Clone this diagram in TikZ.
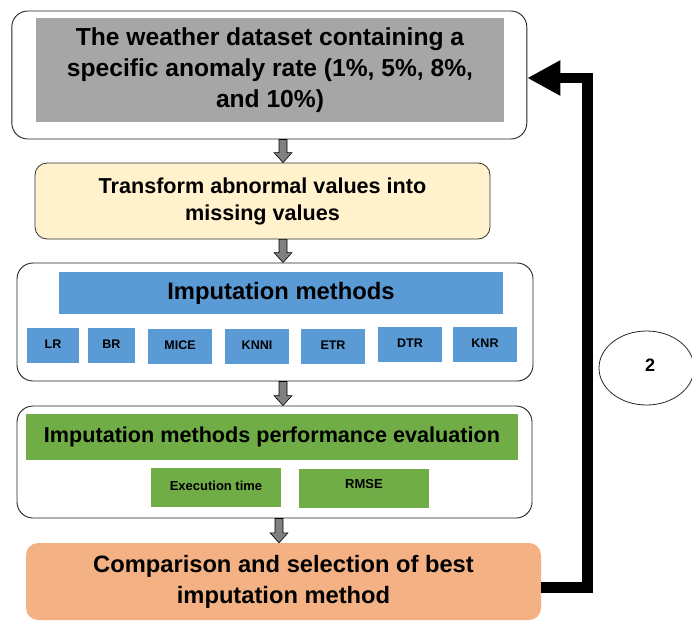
\documentclass[tikz,border=0pt]{standalone}
\usepackage{fontspec}
\setmainfont{Liberation Sans}
\usetikzlibrary{arrows.meta,shapes.geometric,calc}
\definecolor{boxgray}{HTML}{A6A6A6}
\definecolor{boxyellow}{HTML}{FFF2CC}
\definecolor{boxblue}{HTML}{5B9BD5}
\definecolor{boxgreen}{HTML}{70AD47}
\definecolor{boxorange}{HTML}{F4B183}
\definecolor{arrowgray}{HTML}{808080}
\tikzset{
  frame/.style={draw=black!85, line width=0.9pt, rounded corners=16pt, fill=white},
  fillbox/.style={inner sep=0pt, align=center, font=\bfseries},
  smallbox/.style={fill=boxblue, minimum height=35pt, inner sep=0pt, font=\bfseries\fontsize{12.5}{14}\selectfont},
  greenbox/.style={fill=boxgreen, minimum width=130pt, minimum height=39pt, inner sep=0pt,
    font=\bfseries\fontsize{13}{15}\selectfont},
  fatarrow/.style={draw=black, fill=arrowgray, line width=0.6pt,
    to path={let \p1=(\tikztostart), \p2=(\tikztotarget) in
      (\x1-4pt,\y1) -- (\x1+4pt,\y1) -- (\x1+4pt,\y2+10pt) -- (\x1+9pt,\y2+10pt)
      -- (\x1,\y2) -- (\x1-9pt,\y2+10pt) -- (\x1-4pt,\y2+10pt) -- cycle}},
  feedback/.style={draw=black, line width=10.5pt, line join=miter,
    -{Triangle[length=33pt,width=33pt]}}
}
\begin{document}
\begin{tikzpicture}[x=1pt,y=-1pt]
\useasboundingbox (0,0) rectangle (692,621);
% box 1
\node[frame, minimum width=515pt, minimum height=128pt] (box1) at (269.3,75) {};
\node[fillbox, fill=boxgray, minimum width=468pt, minimum height=104pt,
  font=\bfseries\fontsize{24.6}{31}\selectfont] (data) at (270,70)
  {The weather dataset containing a\\specific anomaly rate (1\%, 5\%, 8\%,\\and 10\%)};
% yellow
\node[fillbox, draw=black!80, line width=0.8pt, rounded corners=12pt, fill=boxyellow,
  minimum width=455pt, minimum height=76pt,
  font=\bfseries\fontsize{21.6}{27}\selectfont] (trans) at (262.5,201)
  {Transform abnormal values into\\missing values};
% box 3
\node[frame, minimum width=516pt, minimum height=118pt] (box3) at (275,322) {};
\node[fillbox, fill=boxblue, minimum width=444pt, minimum height=42pt,
  font=\bfseries\fontsize{23.8}{28}\selectfont] (imp) at (281,293) {Imputation methods};
\node[smallbox, minimum width=52pt] (lr) at (53,345) {\raisebox{1pt}{LR}};
\node[smallbox, minimum width=47pt] (br) at (111.5,345) {\raisebox{1pt}{BR}};
\node[smallbox, minimum width=64pt] (mice) at (180,346.5) {\raisebox{3pt}{MICE}};
\node[smallbox, minimum width=64pt] (knni) at (257,346.5) {\raisebox{3pt}{KNNI}};
\node[smallbox, minimum width=64pt] (etr) at (333,346.5) {\raisebox{3pt}{ETR}};
\node[smallbox, minimum width=64pt] (dtr) at (410,344.5) {\raisebox{2.5pt}{DTR}};
\node[smallbox, minimum width=64pt] (knr) at (485,344.5) {\raisebox{2.5pt}{KNR}};
% box 4
\node[frame, minimum width=515pt, minimum height=112pt] (box4) at (274.5,462) {};
\node[fillbox, fill=boxgreen, minimum width=492pt, minimum height=46pt,
  font=\bfseries\fontsize{21.6}{26}\selectfont] (perf) at (272,437)
  {Imputation methods performance evaluation};
\node[greenbox] (exec) at (216,487.5) {\raisebox{3.5pt}{Execution time}};
\node[greenbox] (rmse) at (364,488.5) {\raisebox{10pt}{RMSE}};
% orange
\node[fillbox, fill=boxorange, rounded corners=12pt, minimum width=515pt, minimum height=77pt,
  font=\bfseries\fontsize{23.7}{31}\selectfont] (comp) at (283.5,581.5)
  {Comparison and selection of best\\imputation method};
% ellipse
\node[ellipse, draw=black!85, line width=0.8pt, minimum width=95pt, minimum height=74pt,
  font=\bfseries\fontsize{18}{20}\selectfont] (two) at (646.5,368) {\raisebox{5pt}{\hspace*{7pt}2}};
% gray arrows
\coordinate (ax) at (283,0);
\coordinate (bx) at (279,0);
\path[fatarrow] (box1.south -| ax) to (trans.north -| ax);
\path[fatarrow] (trans.south -| ax) to (box3.north -| ax);
\path[fatarrow] (box3.south -| ax) to (box4.north -| ax);
\path[fatarrow] (box4.south -| bx) to (comp.north -| bx);
% feedback loop
\coordinate (c1) at (587.5,587.5);
\coordinate (c2) at (587.5,78);
\draw[feedback] ([yshift=-6pt]comp.east) -- (c1) -- (c2) -- ([yshift=-3pt]box1.east);
\end{tikzpicture}
\end{document}
